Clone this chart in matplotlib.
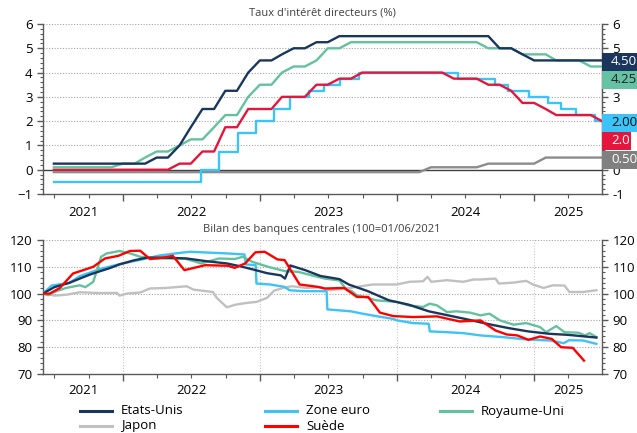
import matplotlib
matplotlib.use('Agg')
import matplotlib.pyplot as plt
import matplotlib.dates as mdates
import matplotlib.transforms as mtransforms
from matplotlib.patches import Rectangle
from matplotlib.lines import Line2D
from matplotlib.ticker import MultipleLocator
import pandas as pd

plt.rcParams['font.family'] = ['Open Sans', 'DejaVu Sans']

# ---------------- DATA ----------------
# Policy rates, end-of-month values (Jun 2021 .. Jun 2025)
rate_months = pd.date_range('2021-06-30', '2025-06-30', freq='ME')
fed_rate = [0.25, 0.25, 0.25, 0.25, 0.25, 0.25, 0.25,
            0.25, 0.25, 0.5, 0.5, 1.0, 1.75, 2.5, 2.5, 3.25, 3.25, 4.0, 4.5,
            4.5, 4.75, 5.0, 5.0, 5.25, 5.25, 5.5, 5.5, 5.5, 5.5, 5.5, 5.5,
            5.5, 5.5, 5.5, 5.5, 5.5, 5.5, 5.5, 5.5, 5.0, 5.0, 4.75, 4.5,
            4.5, 4.5, 4.5, 4.5, 4.5, 4.5]
boe_rate = [0.1, 0.1, 0.1, 0.1, 0.1, 0.1, 0.25,
            0.25, 0.5, 0.75, 0.75, 1.0, 1.25, 1.25, 1.75, 2.25, 2.25, 3.0, 3.5,
            3.5, 4.0, 4.25, 4.25, 4.5, 5.0, 5.0, 5.25, 5.25, 5.25, 5.25, 5.25,
            5.25, 5.25, 5.25, 5.25, 5.25, 5.25, 5.25, 5.0, 5.0, 5.0, 4.75, 4.75,
            4.75, 4.5, 4.5, 4.5, 4.25, 4.25]
riks_rate = [0, 0, 0, 0, 0, 0, 0,
             0, 0, 0, 0, 0.25, 0.25, 0.75, 0.75, 1.75, 1.75, 2.5, 2.5,
             2.5, 3.0, 3.0, 3.0, 3.5, 3.5, 3.75, 3.75, 4.0, 4.0, 4.0, 4.0,
             4.0, 4.0, 4.0, 4.0, 3.75, 3.75, 3.75, 3.5, 3.5, 3.25, 2.75, 2.75,
             2.5, 2.25, 2.25, 2.25, 2.25, 2.0]
boj_rate = [-0.1] * 33 + [0.1] * 5 + [0.25] * 5 + [0.5] * 6

# ECB deposit rate (decision dates)
ecb_dates = ['2021-06-30', '2022-07-27', '2022-09-14', '2022-11-02', '2022-12-21',
             '2023-02-08', '2023-03-22', '2023-05-10', '2023-06-21', '2023-08-02',
             '2023-09-20', '2024-06-12', '2024-09-18', '2024-10-23', '2024-12-18',
             '2025-02-05', '2025-03-12', '2025-04-23', '2025-06-11', '2025-06-30']
ecb_rate = [-0.5, 0.0, 0.75, 1.5, 2.0, 2.5, 3.0, 3.25, 3.5, 3.75,
            4.0, 3.75, 3.5, 3.25, 3.0, 2.75, 2.5, 2.25, 2.0, 2.0]

# Balance sheets (100 = 01/06/2021)
us_dates = ['2021-06-01', '2021-07-01', '2021-08-10', '2021-09-07', '2021-10-04', '2021-11-01',
            '2021-11-28', '2021-12-22', '2022-01-29', '2022-03-04', '2022-04-25', '2022-06-19',
            '2022-08-10', '2022-10-04', '2022-11-07', '2022-12-13', '2023-01-20', '2023-02-25',
            '2023-03-08', '2023-03-22', '2023-05-01', '2023-06-10', '2023-07-31', '2023-08-25',
            '2023-10-15', '2023-12-10', '2024-01-31', '2024-03-25', '2024-05-15', '2024-07-10',
            '2024-09-01', '2024-10-25', '2024-12-15', '2025-02-10', '2025-04-01', '2025-06-15']
us_bs = [100, 102.4, 104, 105.6, 107.1, 108.4,
         109.6, 110.9, 112.4, 113.4, 113.4, 113.1,
         112.1, 111.25, 110.25, 109.0, 107.6, 106.8,
         105.6, 110.5, 108.75, 106.6, 105.4, 103.4,
         100.9, 97.5, 95.9, 93.4, 91.9, 90.25,
         88.6, 87.1, 85.9, 85.0, 84.6, 83.6]

ez_dates = ['2021-06-01', '2021-06-24', '2021-08-10', '2021-09-07', '2021-11-01', '2021-12-22',
            '2022-02-15', '2022-04-07', '2022-06-01', '2022-06-28', '2022-09-01', '2022-10-04',
            '2022-11-20', '2022-11-24', '2022-12-20', '2022-12-22', '2023-01-28', '2023-03-07',
            '2023-03-20', '2023-04-25', '2023-06-27', '2023-06-29', '2023-08-30', '2023-10-01',
            '2023-11-06', '2023-12-20', '2024-01-01', '2024-02-12', '2024-03-25', '2024-03-28',
            '2024-05-13', '2024-06-25', '2024-08-10', '2024-10-10', '2024-12-10', '2025-02-12',
            '2025-03-20', '2025-04-03', '2025-05-10', '2025-06-15']
ez_bs = [100, 103.0, 104.0, 106.5, 109.2, 111.0,
         112.6, 114.2, 115.2, 115.6, 115.2, 115.0,
         114.6, 110.9, 110.6, 103.75, 103.4, 102.5,
         101.25, 100.9, 100.9, 94.1, 93.4, 92.5,
         91.6, 90.6, 90.0, 89.0, 88.75, 85.9,
         85.6, 85.25, 84.4, 83.75, 82.9, 82.5,
         81.5, 82.6, 82.5, 81.25]

uk_dates = ['2021-06-01', '2021-06-15', '2021-07-01', '2021-08-01', '2021-09-07', '2021-09-22',
            '2021-10-13', '2021-11-03', '2021-11-18', '2021-12-22', '2022-01-19', '2022-02-15',
            '2022-03-30', '2022-06-13', '2022-07-28', '2022-09-13', '2022-10-25', '2022-11-16',
            '2022-12-10', '2023-01-22', '2023-03-07', '2023-04-13', '2023-05-16', '2023-06-22',
            '2023-07-31', '2023-08-20', '2023-09-01', '2023-09-15', '2023-10-05', '2023-11-06',
            '2023-12-31', '2024-02-01', '2024-03-10', '2024-03-28', '2024-04-16', '2024-05-13',
            '2024-06-07', '2024-07-13', '2024-08-10', '2024-09-03', '2024-10-01', '2024-11-06',
            '2024-12-10', '2025-01-16', '2025-02-01', '2025-02-28', '2025-03-22', '2025-04-28',
            '2025-05-16', '2025-05-28', '2025-06-15']
uk_bs = [100, 99.4, 100.6, 102.1, 103.1, 102.4,
         104.4, 113.75, 115.0, 115.9, 115.0, 113.75,
         113.1, 113.1, 111.25, 113.1, 112.9, 113.75,
         111.9, 110.0, 108.4, 108.1, 106.9, 105.6,
         104.9, 101.3, 101.0, 99.4, 98.75, 97.5,
         96.9, 95.6, 95.0, 96.25, 95.6, 93.1,
         93.4, 92.9, 91.9, 92.5, 90.0, 88.4,
         89.0, 87.5, 85.6, 87.9, 85.6, 85.4,
         84.4, 85.25, 83.75]

jp_dates = ['2021-06-01', '2021-07-03', '2021-08-03', '2021-09-07', '2021-11-01', '2021-12-15',
            '2021-12-22', '2022-01-10', '2022-02-15', '2022-03-13', '2022-04-25', '2022-06-19',
            '2022-07-07', '2022-08-10', '2022-08-28', '2022-09-07', '2022-10-04', '2022-10-28',
            '2022-11-25', '2022-12-22', '2023-01-19', '2023-02-07', '2023-03-10', '2023-03-28',
            '2023-05-04', '2023-06-10', '2023-07-04', '2023-08-28', '2023-10-28', '2023-12-31',
            '2024-02-03', '2024-03-10', '2024-03-22', '2024-04-01', '2024-05-13', '2024-06-25',
            '2024-07-22', '2024-08-10', '2024-09-19', '2024-09-28', '2024-11-06', '2024-12-10',
            '2024-12-28', '2025-01-25', '2025-02-19', '2025-03-22', '2025-04-04', '2025-05-10',
            '2025-06-15']
jp_bs = [100, 99.25, 99.6, 100.5, 100.2, 100.25,
         99.25, 100.0, 100.4, 101.9, 102.1, 102.75,
         101.5, 100.9, 100.6, 98.4, 94.9, 95.9,
         96.5, 96.9, 98.4, 101.1, 102.4, 102.75,
         102.1, 102.4, 101.25, 102.1, 103.4, 103.4,
         104.4, 104.6, 106.25, 104.4, 105.0, 104.4,
         105.25, 105.25, 105.6, 103.75, 104.1, 104.75,
         103.4, 102.1, 103.1, 103.0, 100.6, 100.6,
         101.25]

se_dates = ['2021-06-01', '2021-06-19', '2021-07-16', '2021-08-20', '2021-10-13', '2021-11-13',
            '2021-12-19', '2022-01-19', '2022-02-15', '2022-03-13', '2022-04-16', '2022-05-13',
            '2022-06-13', '2022-08-07', '2022-10-07', '2022-10-25', '2022-11-22', '2022-12-19',
            '2023-01-13', '2023-02-16', '2023-03-07', '2023-04-16', '2023-06-04', '2023-06-22',
            '2023-08-13', '2023-09-16', '2023-10-16', '2023-11-16', '2023-12-22', '2024-02-13',
            '2024-04-16', '2024-06-16', '2024-08-10', '2024-09-19', '2024-10-19', '2024-11-16',
            '2024-12-16', '2025-01-16', '2025-02-16', '2025-03-13', '2025-04-13', '2025-05-13']
se_bs = [100, 100, 102.1, 107.5, 110.0, 113.1,
         114.1, 115.9, 116.0, 112.9, 113.4, 114.1,
         108.75, 110.6, 110.4, 109.6, 111.25, 115.4,
         115.6, 112.75, 112.5, 103.4, 102.5, 101.9,
         102.1, 98.75, 98.75, 92.9, 91.6, 91.25,
         91.5, 89.6, 90.0, 86.25, 84.75, 84.4,
         82.75, 84.0, 83.1, 80.0, 79.75, 75.0]

years = [2021, 2022, 2023, 2024, 2025]
legend_labels = ['Etats-Unis', 'Zone euro', 'Royaume-Uni', 'Japon', 'Suède']

# ---------------- STYLE ----------------
C_US = '#1B365D'
C_EZ = '#3CC3F7'
C_UK = '#63C29E'
C_SE_TOP = '#E3173E'
C_SE_BOT = '#FF0000'
C_JP_TOP = '#8C8C8C'
C_JP_BOT = '#C0C0C0'
SPINE = '#595959'
GRID = '#A6A6A6'
LW = 1.7

x0 = pd.Timestamp('2021-06-01')
x1 = pd.Timestamp('2025-06-30')

fig = plt.figure(figsize=(6.37, 4.33), dpi=100)
W, H = 637, 433

def axrect(l, t, r, b):
    return [l / W, 1 - b / H, (r - l) / W, (b - t) / H]

ax1 = fig.add_axes(axrect(43, 24, 602, 194))
ax2 = fig.add_axes(axrect(43, 240, 602, 374))

def style_axis(ax, ymin, ymax, ystep, yminor, label_y, right_labels=True):
    ax.set_xlim(x0, x1)
    ax.set_ylim(ymin, ymax)
    ax.yaxis.set_major_locator(MultipleLocator(ystep))
    ax.yaxis.set_minor_locator(MultipleLocator(yminor))
    ax.tick_params(axis='y', which='both', left=True, right=True,
                   labelleft=True, labelright=right_labels, direction='out',
                   colors=SPINE, labelcolor='black', labelsize=9.5)
    ax.tick_params(axis='y', which='major', length=4, width=1)
    ax.tick_params(axis='y', which='minor', length=2, width=0.8)
    for s in ['left', 'right', 'bottom']:
        ax.spines[s].set_color(SPINE)
        ax.spines[s].set_linewidth(1.0)
    ax.spines['top'].set_visible(False)
    ax.xaxis.set_major_locator(mdates.YearLocator())
    ax.xaxis.set_minor_locator(mdates.MonthLocator(bymonth=[4, 7, 10]))
    ax.tick_params(axis='x', which='both', labelbottom=False, direction='out',
                   colors=SPINE)
    ax.tick_params(axis='x', which='major', length=5, width=1)
    ax.tick_params(axis='x', which='minor', length=3, width=0.8)
    tr = mtransforms.blended_transform_factory(ax.transData, ax.transAxes)
    for yv in years:
        a = max(pd.Timestamp(f'{yv}-01-01'), x0)
        b = min(pd.Timestamp(f'{yv + 1}-01-01'), x1)
        mid = a + (b - a) / 2
        ax.text(mdates.date2num(mid), label_y, str(yv), transform=tr,
                ha='center', va='center', fontsize=9.5)

# ---------- Top chart ----------
style_axis(ax1, -1, 6, 1, 0.2, -0.11, right_labels=False)
ax1r = ax1.twinx()
ax1r.set_ylim(-1, 6)
ax1r.set_yticks(list(range(-1, 7)))
ax1r.set_yticklabels(['-1', '0', '', '', '3', '', '5', '6'])
ax1r.yaxis.set_minor_locator(MultipleLocator(0.2))
ax1r.tick_params(axis='y', which='both', direction='out', colors=SPINE,
                 labelcolor='black', labelsize=9.5)
ax1r.tick_params(axis='y', which='major', length=4, width=1)
ax1r.tick_params(axis='y', which='minor', length=2, width=0.8)
for s in ['left', 'top', 'bottom']:
    ax1r.spines[s].set_visible(False)
ax1r.spines['right'].set_color(SPINE)
ax1.tick_params(axis='y', which='both', right=False)

for v in range(1, 7):
    ax1.axhline(v, color=GRID, lw=0.8, ls=(0, (1, 1.5)), zorder=0)
ax1.axhline(0, color='#404040', lw=1.0, zorder=1)
ax1.plot(rate_months, boj_rate, color=C_JP_TOP, lw=LW, zorder=2)
ax1.plot(pd.to_datetime(ecb_dates), ecb_rate, color=C_EZ, lw=LW,
         drawstyle='steps-post', zorder=3)
ax1.plot(rate_months, riks_rate, color=C_SE_TOP, lw=LW, zorder=4)
ax1.plot(rate_months, boe_rate, color=C_UK, lw=LW, zorder=5)
ax1.plot(rate_months, fed_rate, color=C_US, lw=LW, zorder=6)

fig.text(322 / W, 1 - 13 / H, "Taux d'intérêt directeurs (%)", ha='center',
         va='center', fontsize=8, color='#404040')

# value boxes on the right (label, colour, text colour, centre y px, width px)
boxes = [(f'{fed_rate[-1]:.2f}', C_US, 'white', 61.5, 40),
         (f'{boe_rate[-1]:.2f}', '#66C2A5', '#222222', 79.5, 40),
         (f'{ecb_rate[-1]:.2f}', C_EZ, '#111111', 122.5, 40),
         (f'{riks_rate[-1]:.1f}', C_SE_TOP, 'white', 141, 29),
         (f'{boj_rate[-1]:.2f}', '#808080', 'white', 159.5, 40)]
for txt, col, tcol, yc, bw in boxes:
    h = 18
    fig.add_artist(Rectangle((602 / W, 1 - (yc + h / 2) / H), bw / W, h / H,
                             transform=fig.transFigure, facecolor=col,
                             edgecolor='none', zorder=10))
    fig.text(611 / W, 1 - yc / H, txt, ha='left', va='center', fontsize=9.5,
             color=tcol, zorder=11)

# ---------- Bottom chart ----------
style_axis(ax2, 70, 120, 10, 2, -0.12)
for v in range(80, 121, 10):
    ax2.axhline(v, color=GRID, lw=0.8, ls=(0, (1, 1.5)), zorder=0)
for yv in years[1:]:
    ax2.axvline(pd.Timestamp(f'{yv}-01-01'), color='#C8C8C8', lw=0.8,
                ls=(0, (1, 1.5)), zorder=0)
ax2.plot(pd.to_datetime(jp_dates), jp_bs, color=C_JP_BOT, lw=LW, zorder=2)
ax2.plot(pd.to_datetime(ez_dates), ez_bs, color=C_EZ, lw=LW, zorder=3)
ax2.plot(pd.to_datetime(uk_dates), uk_bs, color=C_UK, lw=LW, zorder=4)
ax2.plot(pd.to_datetime(us_dates), us_bs, color=C_US, lw=LW, zorder=5)
ax2.plot(pd.to_datetime(se_dates), se_bs, color=C_SE_BOT, lw=LW, zorder=6)

fig.text(322 / W, 1 - 230 / H, "Bilan des banques centrales (100=01/06/2021",
         ha='center', va='center', fontsize=8, color='#404040')

# ---------- Legend (manual, Excel-like grid) ----------
leg_colors = [C_US, C_EZ, C_UK, C_JP_BOT, C_SE_BOT]
leg_pos = [(80, 411), (265, 411), (440, 411), (80, 426), (265, 426)]
for lab, col, (lx, ly) in zip(legend_labels, leg_colors, leg_pos):
    fig.add_artist(Line2D([lx / W, (lx + 32) / W], [1 - ly / H, 1 - ly / H],
                          transform=fig.transFigure, color=col, lw=2.2))
    fig.text((lx + 41) / W, 1 - ly / H, lab, ha='left', va='center',
             fontsize=9.5, color='black')

fig.savefig('out.png', dpi=100)
